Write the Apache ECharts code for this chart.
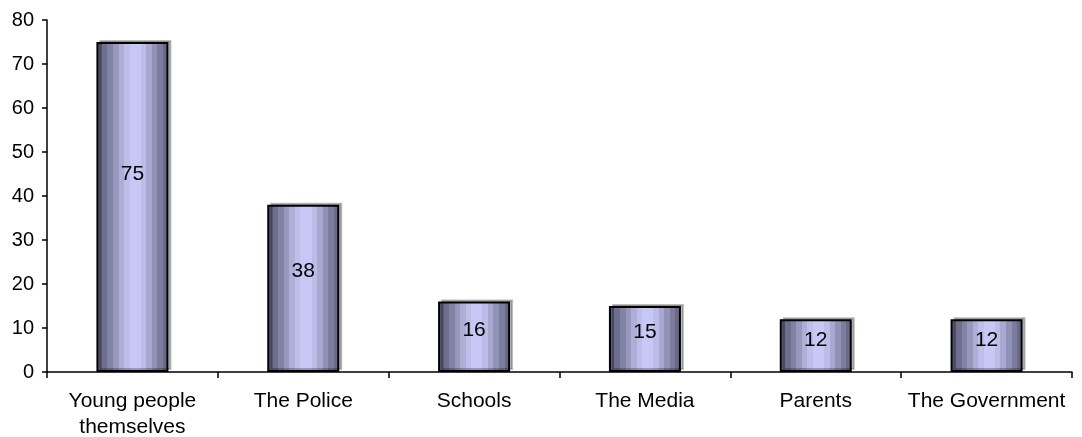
<!DOCTYPE html>
<html lang="en">
<head>
    <meta charset="UTF-8">
    <title>Responsibility chart</title>
    <style>
        html, body { margin: 0; padding: 0; background: #fff; }
        #chart { width: 1082px; height: 437px; }
    </style>
</head>
<body>
    <div id="chart"></div>
    <script src="https://cdn.jsdelivr.net/npm/echarts@6/dist/echarts.min.js"></script>
    <script>
        // data
        const categories = ['Young people\nthemselves', 'The Police', 'Schools', 'The Media', 'Parents', 'The Government'];
        const values = [75, 38, 16, 15, 12, 12];
        const yTicks = [0, 10, 20, 30, 40, 50, 60, 70, 80];

        // stepped horizontal shading, dark at the edges, light in the middle
        const shades = ['#5c5c7a', '#6e6e8e', '#8282a4', '#9898bc', '#aeaed6', '#bebee8', '#c8c8f6', '#c8c8f6', '#bcbce6', '#a8a8d0', '#9292b6', '#7c7c9e', '#6a6a88'];
        const stops = [];
        shades.forEach(function (c, i) {
            stops.push({ offset: i / shades.length, color: c });
            stops.push({ offset: (i + 1) / shades.length - 0.0001, color: c });
        });

        const chart = echarts.init(document.getElementById('chart'));
        chart.setOption({
            animation: false,
            textStyle: { fontFamily: 'Liberation Sans, Arial, sans-serif' },
            grid: { left: 47, right: 10, top: 20, bottom: 65, containLabel: false, outerBoundsMode: 'none' },
            xAxis: {
                type: 'category',
                data: categories,
                axisLine: { lineStyle: { color: '#000', width: 1.5 } },
                axisTick: { show: true, interval: 0, length: 6, lineStyle: { color: '#000', width: 1.5 } },
                axisLabel: { color: '#000', fontSize: 21, interval: 0, margin: 16, lineHeight: 26 }
            },
            yAxis: {
                type: 'value',
                min: yTicks[0],
                max: yTicks[yTicks.length - 1],
                interval: 10,
                axisLine: { show: true, lineStyle: { color: '#000', width: 1.5 } },
                axisTick: { show: true, length: 5, lineStyle: { color: '#000', width: 1.5 } },
                axisLabel: { color: '#000', fontSize: 20, margin: 13 },
                splitLine: { show: false }
            },
            series: [{
                type: 'bar',
                data: values,
                barWidth: 72,
                itemStyle: {
                    color: { type: 'linear', x: 0, y: 0, x2: 1, y2: 0, colorStops: stops },
                    borderColor: '#000',
                    borderWidth: 2,
                    shadowColor: 'rgba(0,0,0,0.25)',
                    shadowOffsetX: 3,
                    shadowOffsetY: -2,
                    shadowBlur: 0
                },
                label: {
                    show: true,
                    position: ['50%', '40%'],
                    align: 'center',
                    verticalAlign: 'middle',
                    color: '#000',
                    fontSize: 21
                }
            }]
        });
    </script>
</body>
</html>
